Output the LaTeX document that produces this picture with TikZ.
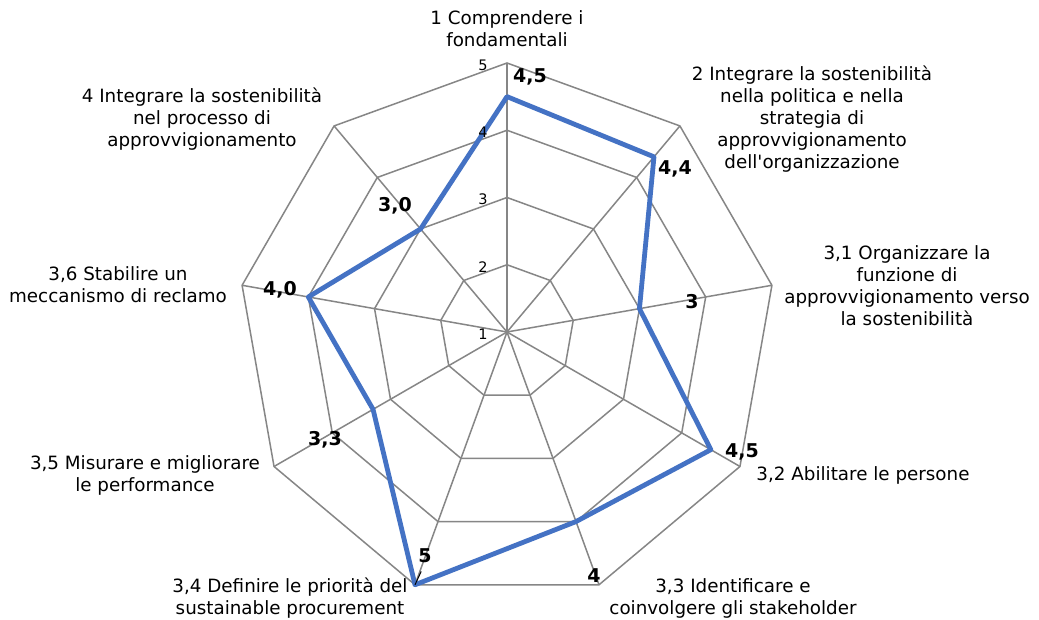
\documentclass[tikz,border=0pt]{standalone}
\usepackage{fontspec}
\setmainfont{DejaVu Sans}[Ligatures=TeXOff]
\usetikzlibrary{positioning}
\definecolor{gridgray}{RGB}{134,134,134}
\definecolor{seriesblue}{RGB}{68,114,196}
\tikzset{%
    ringline/.style = {draw=gridgray, line width=1.5pt, line join=miter},
    spokeline/.style = {draw=gridgray, line width=1.5pt},
    series/.style = {draw=seriesblue, line width=4.8pt, line join=round},
    category/.style = {
        align=center, inner sep=0pt, font=\fontsize{18.3}{22}\selectfont
    },
    ticklabel/.style = {inner sep=0pt, font=\fontsize{14.5}{16}\selectfont},
    valuelabel/.style = {
        inner sep=0pt, font=\fontsize{19}{22}\selectfont\bfseries
    },
    leader/.style = {draw=black, line width=1pt},
}

\begin{document}
\begin{tikzpicture}[x=1pt, y=1pt]
        \fill[white] (0,0) rectangle (1039,-620);
        \useasboundingbox (0,0) rectangle (1039,-620);
        % Web of the chart
        \begin{scope}[shift={(507,-332)}]
            \foreach \r in {1,...,4}
                \draw[ringline] (90:\r*67.25)
                    \foreach \i in {1,...,8} { -- ({90-40*\i}:\r*67.25) } -- cycle;
            \foreach \i in {0,...,8}
                \draw[spokeline] (0,0) -- ({90-40*\i}:269);
            % Data points
            \foreach \v [count=\i from 0] in {4.5,4.4,3,4.5,4,5,3.3,4.0,3.0}
                \coordinate (p\i) at ({90-40*\i}:{(\v-1)*67.25});
            \draw[series] (p0) -- (p1) -- (p2) -- (p3) -- (p4) -- (p5)
                -- (p6) -- (p7) -- (p8) -- cycle;
            \foreach \k in {1,...,5}
                \node (tick\k) [ticklabel] at (-24,{(\k-1)*67.25-2}) {\k};
        \end{scope}

        % Value labels
        \node (val1) [valuelabel] at (530,-77)  {4,5};
        \node (val2) [valuelabel] at (675,-169) {4,4};
        \node (val3) [valuelabel] at (692,-302) {3};
        \node (val4) [valuelabel] at (742,-452) {4,5};
        \node (val5) [valuelabel] at (594,-576) {4};
        \node (val6) [valuelabel] at (425,-556) {5};
        \node (val7) [valuelabel] at (325,-440) {3,3};
        \node (val8) [valuelabel] at (280,-290) {4,0};
        \node (val9) [valuelabel] at (395,-206) {3,0};
        \draw[leader, shorten >=9pt] (p5) -- (val6.south);

        % Category labels
        \node (cat1) [category] at (507,-29)
            {1 Comprendere i\\fondamentali};
        \node (cat2) [category] at (812,-119)
            {2 Integrare la sostenibilità\\nella politica e nella\\strategia di\\
             approvvigionamento\\dell'organizzazione};
        \node (cat3) [category] at (907,-286)
            {3,1 Organizzare la\\funzione di\\approvvigionamento verso\\la sostenibilità};
        \node (cat4) [category] at (863,-475) {3,2 Abilitare le persone};
        \node (cat5) [category] at (733,-598)
            {3,3 Identificare e\\coinvolgere gli stakeholder};
        \node (cat6) [category] at (290,-598)
            {3,4 Definire le priorità del\\sustainable procurement};
        \node (cat7) [category] at (145,-475)
            {3,5 Misurare e migliorare\\le performance};
        \node (cat8) [category] at (118,-285)
            {3,6 Stabilire un\\meccanismo di reclamo};
        \node (cat9) [category] at (202,-119)
            {4 Integrare la sostenibilità\\nel processo di\\approvvigionamento};
\end{tikzpicture}
\end{document}
